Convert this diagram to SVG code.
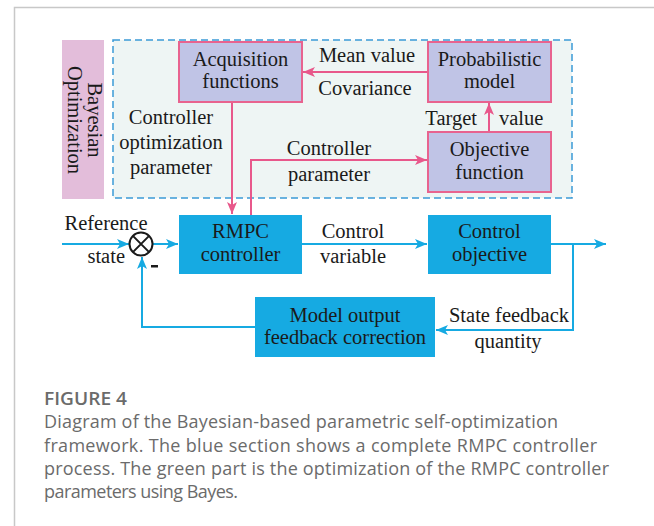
<svg xmlns="http://www.w3.org/2000/svg" width="654" height="526" viewBox="0 0 654 526">
<defs>
<style>
.t{font-family:"Liberation Serif","Times New Roman",serif;font-size:20.5px;fill:#1a1a1a;text-anchor:middle}
.bo{fill:#c0c4e6;stroke:#e8638f;stroke-width:2}
.bl{fill:#16aae2}
.pl{fill:none;stroke:#e8588b;stroke-width:2}
.blu{fill:none;stroke:#16aae2;stroke-width:2}
.cap{font-family:"Open Sans","Lato",sans-serif;fill:#6b6b6b;font-size:18px}
</style>
<marker id="ap" viewBox="0 0 12 10" refX="12" refY="5" markerWidth="12" markerHeight="10" markerUnits="userSpaceOnUse" orient="auto"><path d="M0,0 L12,5 L0,10 L3,5 Z" fill="#e8588b"/></marker>
<marker id="ab" viewBox="0 0 12 10" refX="12" refY="5" markerWidth="12" markerHeight="10" markerUnits="userSpaceOnUse" orient="auto"><path d="M0,0 L12,5 L0,10 L3,5 Z" fill="#16aae2"/></marker>
</defs>
<rect width="654" height="526" fill="#ffffff"/>
<path d="M654,7.5 H14.5 V526" fill="none" stroke="#c8c8c8" stroke-width="1.5"/>

<g id="bayes-label">
<rect x="62" y="40" width="42" height="159" fill="#e3bdda"/>
<g transform="translate(83,120) rotate(90)">
<text class="t" x="0" y="-5">Bayesian</text>
<text class="t" x="0" y="15">Optimization</text>
</g>
</g>
<g id="bayes-region">
<rect x="113" y="40" width="459" height="158" fill="#eef5f4" stroke="#3b9ad6" stroke-width="1.5" stroke-dasharray="7,4"/>
</g>

<g id="connectors">
<line class="pl" x1="428" y1="72" x2="303" y2="72" marker-end="url(#ap)"/>
<line class="pl" x1="489" y1="132" x2="489" y2="103" marker-end="url(#ap)"/>
<line class="pl" x1="232" y1="102" x2="232" y2="214" marker-end="url(#ap)"/>
<polyline class="pl" points="251,215 251,160 427,160" marker-end="url(#ap)"/>
<line class="blu" x1="62" y1="244" x2="129" y2="244" marker-end="url(#ab)"/>
<line class="blu" x1="153" y1="244" x2="178" y2="244" marker-end="url(#ab)"/>
<line class="blu" x1="302" y1="244" x2="427" y2="244" marker-end="url(#ab)"/>
<line class="blu" x1="551" y1="244" x2="606" y2="244" marker-end="url(#ab)"/>
<polyline class="blu" points="573,244 573,330 436,330" marker-end="url(#ab)"/>
<polyline class="blu" points="255,327 142,327 142,257" marker-end="url(#ab)"/>
</g>

<g id="labels">
<text class="t" x="367" y="62">Mean value</text>
<text class="t" x="365" y="95">Covariance</text>
<text class="t" x="477" y="125" style="text-anchor:end">Target</text>
<text class="t" x="499" y="125" style="text-anchor:start">value</text>
<text class="t" x="171" y="124">Controller</text>
<text class="t" x="171" y="149">optimization</text>
<text class="t" x="171" y="174">parameter</text>
<text class="t" x="329" y="155">Controller</text>
<text class="t" x="329" y="181">parameter</text>
<text class="t" x="106" y="230">Reference</text>
<text class="t" x="125" y="263" style="text-anchor:end">state</text>
<rect x="151" y="265" width="7" height="2.5" fill="#1a1a1a"/>
<text class="t" x="353" y="238">Control</text>
<text class="t" x="353" y="263">variable</text>
<text class="t" x="509" y="322">State feedback</text>
<text class="t" x="508" y="348">quantity</text>
</g>

<g id="sum">
<circle cx="141" cy="244" r="11.5" fill="#ffffff" stroke="#1a1a1a" stroke-width="2"/>
<path d="M132.9,235.9 L149.1,252.1 M149.1,235.9 L132.9,252.1" stroke="#1a1a1a" stroke-width="2"/>
</g>

<g id="acquisition">
<rect class="bo" x="179" y="42" width="123" height="60"/>
<text class="t" x="240.5" y="66">Acquisition</text>
<text class="t" x="240.5" y="88">functions</text>
</g>
<g id="probabilistic">
<rect class="bo" x="428" y="42" width="123" height="60"/>
<text class="t" x="489.5" y="66">Probabilistic</text>
<text class="t" x="489.5" y="88">model</text>
</g>
<g id="objective">
<rect class="bo" x="428" y="132" width="123" height="60"/>
<text class="t" x="489.5" y="156">Objective</text>
<text class="t" x="489.5" y="179">function</text>
</g>
<g id="rmpc">
<rect class="bl" x="179" y="215" width="123" height="59"/>
<text class="t" x="240.5" y="238">RMPC</text>
<text class="t" x="240.5" y="261">controller</text>
</g>
<g id="control-objective">
<rect class="bl" x="428" y="215" width="123" height="59"/>
<text class="t" x="489.5" y="238">Control</text>
<text class="t" x="489.5" y="261">objective</text>
</g>
<g id="model-output">
<rect class="bl" x="255" y="297" width="180" height="60"/>
<text class="t" x="345" y="322">Model output</text>
<text class="t" x="345" y="344">feedback correction</text>
</g>

<g id="caption">
<text class="cap" x="44" y="405" font-weight="600" fill="#5a5a5a" textLength="83" lengthAdjust="spacingAndGlyphs">FIGURE 4</text>
<text class="cap" x="44" y="428" textLength="514" lengthAdjust="spacing">Diagram of the Bayesian-based parametric self-optimization</text>
<text class="cap" x="44" y="452" textLength="553" lengthAdjust="spacing">framework. The blue section shows a complete RMPC controller</text>
<text class="cap" x="44" y="475" textLength="565" lengthAdjust="spacing">process. The green part is the optimization of the RMPC controller</text>
<text class="cap" x="44" y="498" textLength="194" lengthAdjust="spacing">parameters using Bayes.</text>
</g>
</svg>
